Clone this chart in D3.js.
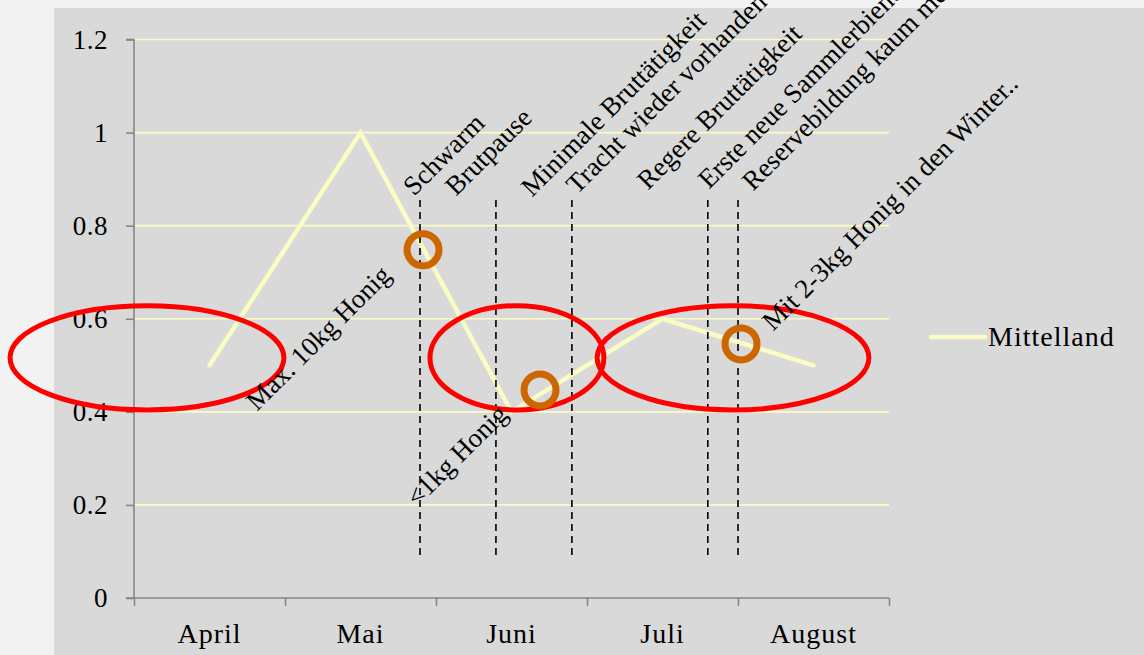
<!DOCTYPE html>
<html>
<head>
<meta charset="utf-8">
<script src="https://cdn.jsdelivr.net/npm/d3@7"></script>
<style>
  html, body { margin: 0; padding: 0; background: #f2f2f2; }
  svg { display: block; }
  text { font-family: "Liberation Serif", "Times New Roman", serif; fill: #000; }
</style>
</head>
<body>
<svg id="chart" width="1144" height="655"></svg>
<script>
// ---- data ----
const categories = ["April", "Mai", "Juni", "Juli", "August"];
const values = [0.5, 1.0, 0.4, 0.6, 0.5];
const seriesName = "Mittelland";
const yTicks = [0, 0.2, 0.4, 0.6, 0.8, 1, 1.2];

// vertical dashed event markers (position in category units)
const markerX = [1.394, 1.897, 2.4, 3.3, 3.5];
const markerTop = 0.855;
const markerBottom = 0.086;

// rotated annotation texts (start point in category / value units)
const noteTexts = ["Schwarm", "Brutpause", "Minimale Bruttätigkeit", "Tracht wieder vorhanden",
  "Regere Bruttätigkeit", "Erste neue Sammlerbienen", "Reservebildung kaum mehr möglich",
  "Max. 10kg Honig", "<1kg Honig", "Mit 2-3kg Honig in den Winter.."];
const noteX = [1.355, 1.633, 2.136, 2.434, 2.904, 3.308, 3.600, 0.315, 1.375, 3.732];
const noteY = [0.862, 0.862, 0.860, 0.866, 0.875, 0.877, 0.873, 0.400, 0.194, 0.572];

// orange ring highlights
const ringX = [1.414, 2.189, 3.52];
const ringY = [0.748, 0.447, 0.546];

// red ellipse highlights (centre and radii in category / value units)
const ellX = [-0.414, 2.036, 3.467];
const ellY = [0.516, 0.516, 0.516];
const ellRX = [0.907, 0.576, 0.90];
const ellRY = [0.112, 0.112, 0.112];

// ---- layout ----
const svg = d3.select("#chart");
const plot = { left: 134, right: 889, top: 39.5, bottom: 598 };

svg.append("rect").attr("x", 54).attr("y", 8).attr("width", 1144 - 54).attr("height", 655 - 8)
  .attr("fill", "#d9d9d9");

const x = d3.scaleLinear().domain([-0.5, categories.length - 0.5]).range([plot.left, plot.right]);
const xBand = d3.scaleBand().domain(categories).range([plot.left, plot.right]);
const y = d3.scaleLinear().domain([0, 1.2]).range([plot.bottom, plot.top]);

// gridlines
svg.append("g").selectAll("line").data(yTicks.filter(d => d > 0)).join("line")
  .attr("x1", plot.left).attr("x2", plot.right)
  .attr("y1", d => y(d)).attr("y2", d => y(d))
  .attr("stroke", "#fbfbc4").attr("stroke-width", 1.6);

// y axis
const yAxis = svg.append("g").attr("transform", `translate(${plot.left},0)`)
  .call(d3.axisLeft(y).tickValues(yTicks).tickSize(8).tickPadding(18).tickFormat(d => String(d)));
yAxis.selectAll("path, line").attr("stroke", "#868686").attr("stroke-width", 1.6);
yAxis.select(".domain").attr("d", `M-8,${y(1.2)}H0V${y(0)}H-8`).attr("fill", "none");
yAxis.selectAll("text").attr("font-family", "Liberation Serif").attr("font-size", 27)
  .attr("letter-spacing", 0.5).attr("fill", "#000");

// x axis (tick marks at category boundaries)
const xTickVals = d3.range(-0.5, categories.length, 1);
const xAxis = svg.append("g").attr("transform", `translate(0,${plot.bottom})`)
  .call(d3.axisBottom(x).tickValues(xTickVals).tickSize(8).tickFormat(""));
xAxis.selectAll("path, line").attr("stroke", "#868686").attr("stroke-width", 1.6);
xAxis.select(".domain").attr("d", `M${plot.left},0H${plot.right}`);

const xLabels = svg.append("g").attr("transform", `translate(0,${plot.bottom})`)
  .call(d3.axisBottom(xBand).tickSize(0).tickPadding(0));
xLabels.select(".domain").remove();
xLabels.selectAll("text").attr("font-family", "Liberation Serif").attr("font-size", 28)
  .attr("letter-spacing", 1).attr("fill", "#000").attr("y", 45).attr("dy", 0);

// series line
const line = d3.line().x((d, i) => x(i)).y(d => y(d));
svg.append("path").datum(values).attr("d", line)
  .attr("fill", "none").attr("stroke", "#fbfbc4").attr("stroke-width", 4.5)
  .attr("stroke-linecap", "round").attr("stroke-linejoin", "miter");

// dashed markers
svg.append("g").selectAll("line").data(markerX).join("line")
  .attr("x1", d => x(d)).attr("x2", d => x(d))
  .attr("y1", y(markerTop)).attr("y2", y(markerBottom))
  .attr("stroke", "#000").attr("stroke-width", 1.6).attr("stroke-dasharray", "7,5");

// red ellipses
svg.append("g").selectAll("ellipse").data(ellX).join("ellipse")
  .attr("cx", d => x(d)).attr("cy", (d, i) => y(ellY[i]))
  .attr("rx", (d, i) => x(ellRX[i]) - x(0)).attr("ry", (d, i) => y(0) - y(ellRY[i]))
  .attr("fill", "none").attr("stroke", "#ff0000").attr("stroke-width", 5);

// orange rings
svg.append("g").selectAll("circle").data(ringX).join("circle")
  .attr("cx", d => x(d)).attr("cy", (d, i) => y(ringY[i])).attr("r", 16)
  .attr("fill", "none").attr("stroke", "#cc6600").attr("stroke-width", 7);

// rotated notes
svg.append("g").selectAll("text").data(noteTexts).join("text")
  .attr("transform", (d, i) => `translate(${x(noteX[i])},${y(noteY[i])}) rotate(-45)`)
  .attr("font-size", 27).text(d => d);

// legend
const lg = svg.append("g");
lg.append("line").attr("x1", 931).attr("x2", 985).attr("y1", 337).attr("y2", 337)
  .attr("stroke", "#fbfbc4").attr("stroke-width", 4.5).attr("stroke-linecap", "round");
lg.append("text").attr("x", 988).attr("y", 346).attr("font-size", 28)
  .attr("letter-spacing", 1).text(seriesName);
</script>
</body>
</html>
